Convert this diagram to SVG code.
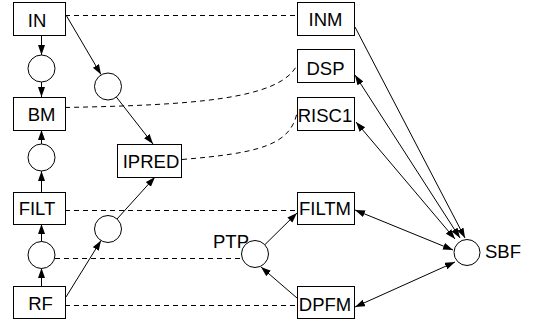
<svg xmlns="http://www.w3.org/2000/svg" width="534" height="328" viewBox="0 0 534 328">
<style>
.box{fill:#fff;stroke:#000;stroke-width:1}
.circ{fill:#fff;stroke:#000;stroke-width:1}
.lbl{font-family:"Liberation Sans",Arial,sans-serif;font-size:18.5px;fill:#000}
.c{text-anchor:middle}
.e{fill:none;stroke:#000;stroke-width:1}
.d{fill:none;stroke:#000;stroke-width:1;stroke-dasharray:5,4}
.a{marker-end:url(#ah)}
.b{marker-start:url(#ahs);marker-end:url(#ah)}
</style>
<defs>
<marker id="ah" markerUnits="userSpaceOnUse" markerWidth="10" markerHeight="8" refX="10" refY="3.5" orient="auto"><path d="M0,0 L10,3.5 L0,7 z" fill="#000"/></marker>
<marker id="ahs" markerUnits="userSpaceOnUse" markerWidth="10" markerHeight="8" refX="10" refY="3.5" orient="auto-start-reverse"><path d="M0,0 L10,3.5 L0,7 z" fill="#000"/></marker>
</defs>
<g id="connectors">
<line class="d" x1="65" y1="15.5" x2="297" y2="15.5"/>
<path class="d" d="M65,107.5 C190,105 280,100 297,65"/>
<path class="d" d="M182,159.5 C260,153 290,145 297,113"/>
<line class="d" x1="65" y1="210.5" x2="297" y2="210.5"/>
<line class="d" x1="55" y1="258.5" x2="241" y2="258.5"/>
<line class="d" x1="65" y1="305.5" x2="297" y2="305.5"/>
<line class="e a" x1="41.5" y1="35" x2="41.5" y2="55"/>
<line class="e a" x1="41.5" y1="82" x2="41.5" y2="97"/>
<line class="e a" x1="41.5" y1="144" x2="41.5" y2="130"/>
<line class="e a" x1="41.5" y1="192" x2="41.5" y2="171"/>
<line class="e a" x1="41.5" y1="242" x2="41.5" y2="224"/>
<line class="e a" x1="41.5" y1="286" x2="41.5" y2="268"/>
<line class="e a" x1="66" y1="15" x2="101" y2="74.5"/>
<line class="e a" x1="116.3" y1="97" x2="153" y2="144"/>
<line class="e a" x1="66" y1="297" x2="101" y2="240.5"/>
<line class="e a" x1="117" y1="219" x2="155" y2="177"/>
<line class="e a" x1="264.5" y1="245" x2="297" y2="213"/>
<line class="e a" x1="297" y1="298" x2="261" y2="267"/>
<line class="e a" x1="355" y1="27" x2="465" y2="238"/>
<line class="e b" x1="355" y1="75" x2="460" y2="238"/>
<line class="e b" x1="356" y1="122" x2="455" y2="239"/>
<line class="e b" x1="355" y1="210" x2="453" y2="250"/>
<line class="e b" x1="355" y1="307" x2="455" y2="262"/>
</g>
<g id="IN"><rect class="box" x="13.5" y="2.5" width="52" height="33"/><text class="lbl c" x="37" y="26.5">IN</text></g>
<g id="BM"><rect class="box" x="13.5" y="97.5" width="52" height="33"/><text class="lbl c" x="41.5" y="120.5">BM</text></g>
<g id="FILT"><rect class="box" x="13.5" y="192.5" width="52" height="32"/><text class="lbl c" x="37" y="215">FILT</text></g>
<g id="RF"><rect class="box" x="13.5" y="286.5" width="52" height="32"/><text class="lbl c" x="40.5" y="310">RF</text></g>
<g id="P1"><circle class="circ" cx="41.5" cy="68.5" r="13.5"/></g>
<g id="P2"><circle class="circ" cx="41.5" cy="157.5" r="13.5"/></g>
<g id="P3"><circle class="circ" cx="41.5" cy="255" r="13.5"/></g>
<g id="P4"><circle class="circ" cx="108" cy="86.5" r="13.5"/></g>
<g id="P5"><circle class="circ" cx="108" cy="229" r="13.5"/></g>
<g id="IPRED"><rect class="box" x="117.5" y="144.5" width="64" height="33"/><text class="lbl c" x="151" y="168">IPRED</text></g>
<g id="INM"><rect class="box" x="297.5" y="2.5" width="57" height="33"/><text class="lbl c" x="325.5" y="26">INM</text></g>
<g id="DSP"><rect class="box" x="297.5" y="49.5" width="57" height="33"/><text class="lbl c" x="325.5" y="75">DSP</text></g>
<g id="RISC1"><rect class="box" x="297.5" y="97.5" width="57" height="33"/><text class="lbl c" x="325" y="121.5">RISC1</text></g>
<g id="FILTM"><rect class="box" x="297.5" y="192.5" width="57" height="32"/><text class="lbl c" x="325" y="215">FILTM</text></g>
<g id="DPFM"><rect class="box" x="297.5" y="286.5" width="57" height="32"/><text class="lbl c" x="325" y="310.5">DPFM</text></g>
<g id="PTP"><circle class="circ" cx="255" cy="254" r="13.5"/><text class="lbl" x="213" y="247.5">PTP</text></g>
<g id="SBF"><circle class="circ" cx="467" cy="252.5" r="13"/><text class="lbl" x="485" y="258">SBF</text></g>
</svg>
